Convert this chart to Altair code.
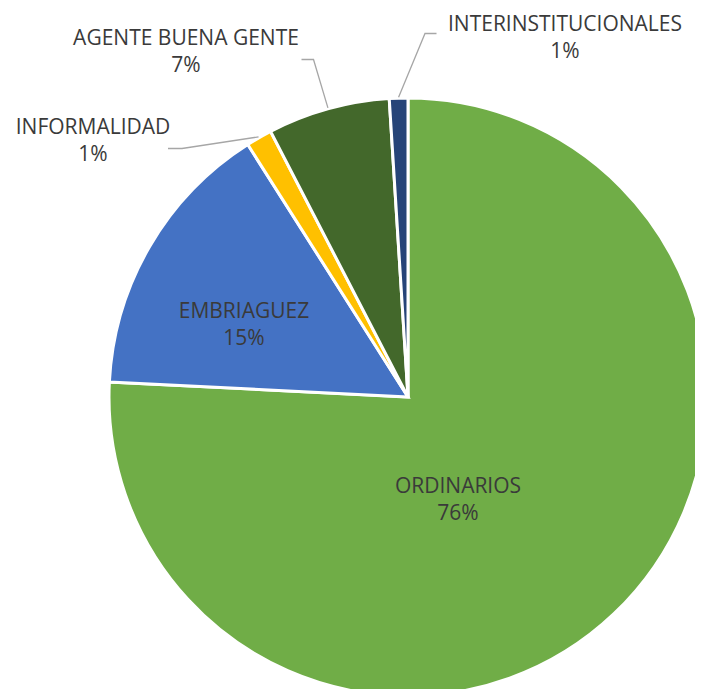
import altair as alt
import pandas as pd
import numpy as np

# ---- data ----
categories = ["ORDINARIOS", "EMBRIAGUEZ", "INFORMALIDAD", "AGENTE BUENA GENTE", "INTERINSTITUCIONALES"]
values = [75.8, 15.2, 1.4, 6.6, 1.0]
pct_labels = ["76%", "15%", "1%", "7%", "1%"]
colors = ["#70AD47", "#4472C4", "#FFC000", "#43682B", "#264478"]

# ---- layout ----
W, H = 687, 681          # page = 703 x 697 with the 8px body margin
CX, CY, R = 400, 389, 299
FONT = "Open Sans"
FS = 21
TXT = "#3A3A3A"

# first-line positions of each label (chart pixels)
label_x = [450, 236, 85, 178, 557]
label_y = [479, 304, 120, 31, 17]
# leader lines: label-side start and knee (None for inside labels)
leader_start = [None, None, (160, 140.5), (293.5, 51.5), (428.5, 25.5)]
leader_knee = [None, None, (174, 140.5), (305.5, 51.5), (417, 25.5)]

df = pd.DataFrame({"cat": categories, "val": values, "idx": list(range(len(categories)))})

pie = alt.Chart(df).mark_arc(radius=R, stroke="white", strokeWidth=3).encode(
    theta=alt.Theta("val:Q", stack=True),
    color=alt.Color("cat:N", scale=alt.Scale(domain=categories, range=colors), legend=None),
    order=alt.Order("idx:Q"),
    x=alt.value(CX),
    y=alt.value(CY),
)

xs = alt.Scale(domain=[0, W], range=[0, W])
ys = alt.Scale(domain=[0, H], range=[0, H])

lab = pd.DataFrame({
    "txt": [f"{c}\n{p}" for c, p in zip(categories, pct_labels)],
    "px": label_x,
    "py": label_y,
})
labels = alt.Chart(lab).mark_text(
    font=FONT, fontSize=FS, color=TXT, lineBreak="\n", lineHeight=27,
    align="center", baseline="middle"
).encode(
    x=alt.X("px:Q", scale=xs, axis=None),
    y=alt.Y("py:Q", scale=ys, axis=None),
    text="txt:N",
)

# leader lines: end at the slice mid-angle on the rim (derived from the data)
total = sum(values)
cum = np.cumsum([0] + values)
rows = []
for i, c in enumerate(categories):
    if leader_start[i] is None:
        continue
    mid = (cum[i] + cum[i + 1]) / 2 / total * 2 * np.pi
    ex = CX + (R + 1) * np.sin(mid)
    ey = CY - (R + 1) * np.cos(mid)
    pts = [leader_start[i], leader_knee[i], (ex, ey)]
    for k, (px, py) in enumerate(pts):
        rows.append({"cat": c, "k": k, "px": px, "py": py})
lead = pd.DataFrame(rows)
leaders = alt.Chart(lead).mark_line(color="#A6A6A6", strokeWidth=1.3).encode(
    x=alt.X("px:Q", scale=xs, axis=None),
    y=alt.Y("py:Q", scale=ys, axis=None),
    detail="cat:N",
    order="k:Q",
)

chart = alt.layer(pie, leaders, labels).properties(
    width=W, height=H, padding=0, autosize=alt.AutoSizeParams(type="none"),
    background="white",
).configure_view(stroke=None)

chart.save("out.html", embed_options={"renderer": "svg", "actions": False})
